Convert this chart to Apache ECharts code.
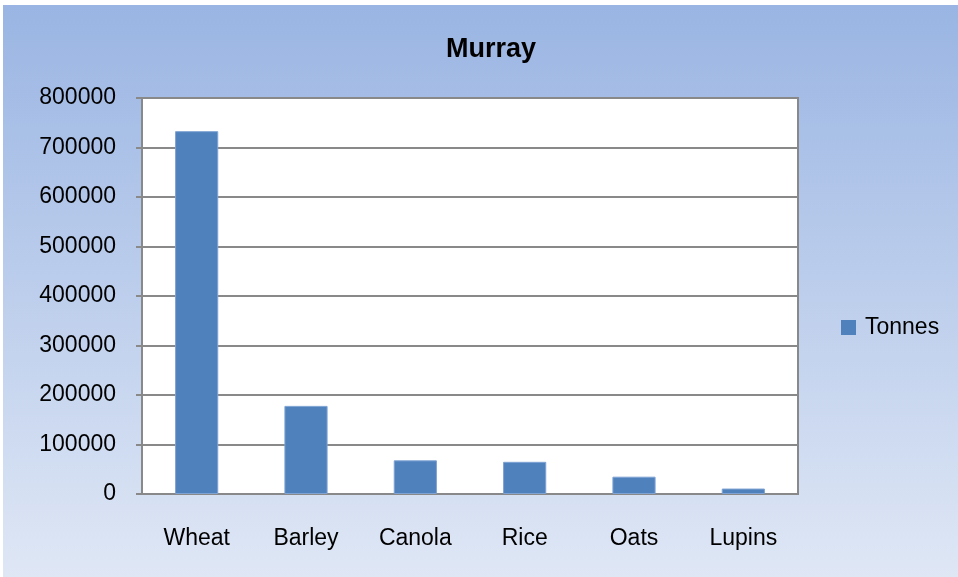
<!DOCTYPE html>
<html>
<head>
<meta charset="utf-8">
<script src="https://cdn.jsdelivr.net/npm/echarts@6/dist/echarts.min.js"></script>
<style>
  html, body { margin: 0; padding: 0; background: #fff; }
  #chart { width: 958px; height: 577px; }
</style>
</head>
<body>
<div id="chart"></div>
<script>
// crops and tonnes
const crops = ['Wheat', 'Barley', 'Canola', 'Rice', 'Oats', 'Lupins']
const tonnes = [733000, 178000, 68000, 65000, 35000, 11000]
const seriesName = 'Tonnes'

const font = '"Liberation Sans", Arial, sans-serif'
const grey = '#898989'

const chart = echarts.init(document.getElementById('chart'))
chart.setOption({
  backgroundColor: '#ffffff',
  animation: false,
  // panel background with vertical gradient
  graphic: [{
    type: 'rect',
    z: -10,
    shape: { x: 3, y: 5, width: 955, height: 572 },
    style: {
      fill: new echarts.graphic.LinearGradient(0, 0, 0, 1, [
        { offset: 0, color: '#9ab5e3' },
        { offset: 1, color: '#dfe7f5' },
      ]),
    },
  }],
  title: {
    text: 'Murray',
    left: 486,
    top: 31,
    textAlign: 'center',
    textStyle: { fontFamily: font, fontSize: 27, fontWeight: 'bold', color: '#000' },
  },
  legend: {
    data: [seriesName],
    orient: 'vertical',
    left: 836,
    top: 311,
    itemWidth: 15,
    itemHeight: 15,
    icon: 'rect',
    itemStyle: { borderWidth: 0 },
    textStyle: { fontFamily: font, fontSize: 23, color: '#000', padding: [0, 0, 0, 4] },
  },
  grid: {
    left: 142,
    right: 160,
    top: 98,
    bottom: 83,
    show: true,
    backgroundColor: '#ffffff',
    borderColor: grey,
    borderWidth: 2,
  },
  xAxis: {
    type: 'category',
    data: crops,
    axisLine: { lineStyle: { color: grey, width: 2 } },
    axisTick: { length: 7, lineStyle: { color: grey, width: 2 } },
    axisLabel: { margin: 33, fontFamily: font, fontSize: 23, color: '#000' },
  },
  yAxis: {
    type: 'value',
    min: 0,
    max: 800000,
    interval: 100000,
    axisLine: { show: true, lineStyle: { color: grey, width: 2 } },
    axisTick: { show: true, length: 6, lineStyle: { color: grey, width: 2 } },
    axisLabel: {
      margin: 26,
      fontFamily: font,
      fontSize: 23,
      color: '#000',
      padding: [5, 0, 0, 0],
      formatter: v => String(v),
    },
    splitLine: { lineStyle: { color: grey, width: 2 } },
  },
  series: [{
    name: seriesName,
    type: 'bar',
    data: tonnes,
    barWidth: '39.5%',
    itemStyle: { color: '#4f81bd', borderColor: '#7fa3d3', borderWidth: 1 },
  }],
})
</script>
</body>
</html>
